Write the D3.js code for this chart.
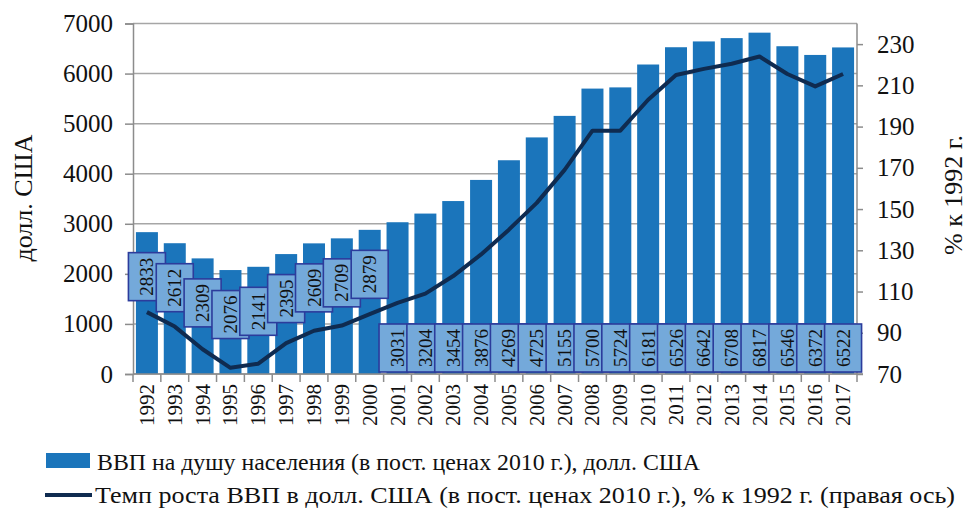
<!DOCTYPE html>
<html>
<head>
<meta charset="utf-8">
<script src="https://cdn.jsdelivr.net/npm/d3@7"></script>
<style>
  html, body { margin: 0; padding: 0; background: #fff; }
  svg { display: block; }
  svg text { font-family: "Liberation Serif", "DejaVu Serif", "Times New Roman", serif !important; fill: #111; }
</style>
</head>
<body>
<svg id="chart" width="969" height="509"></svg>
<script>
const years = ["1992","1993","1994","1995","1996","1997","1998","1999","2000","2001","2002","2003","2004","2005","2006","2007","2008","2009","2010","2011","2012","2013","2014","2015","2016","2017"];
const gdpPerCapita = [2833,2612,2309,2076,2141,2395,2609,2709,2879,3031,3204,3454,3876,4269,4725,5155,5700,5724,6181,6526,6642,6708,6817,6546,6372,6522];
const growthIndex = [100,93,82,73,75,85,91,93.5,99,104.5,109,117.5,128,140,153,169,188,188,203,215,218,220.5,224,215.5,209.5,215.5];
const leftTicks = [0,1000,2000,3000,4000,5000,6000,7000];
const rightTicks = [70,90,110,130,150,170,190,210,230];
const leftTitle = "долл. США";
const rightTitle = "% к 1992 г.";
const legendBar = "ВВП на душу населения (в пост. ценах 2010 г.), долл. США";
const legendLine = "Темп роста ВВП в долл. США (в пост. ценах 2010 г.), % к 1992 г. (правая ось)";
const topLabelCount = 9; // first years labelled near bar tops

const FONT = '"Liberation Serif", "DejaVu Serif", serif';
const svg = d3.select("#chart");
const L = 133, R = 857, T = 23.5, B = 374;
const barColor = "#1b75bb", boxFill = "#74a9da", boxStroke = "#2c3c9c", lineColor = "#0f2b50", gridColor = "#a6a6a6";

const x = d3.scaleBand().domain(years).range([L, R]).paddingInner(0.21).paddingOuter(0.105);
const y = d3.scaleLinear().domain([0, 7000]).range([B, T]);
const y2 = d3.scaleLinear().domain([70, 240]).range([B, T]);

// gridlines
svg.append("g").selectAll("line").data(leftTicks).join("line")
  .attr("x1", L).attr("x2", R).attr("y1", d => y(d)).attr("y2", d => y(d))
  .attr("stroke", gridColor).attr("stroke-width", 1.5);

// bars
svg.append("g").selectAll("rect").data(years).join("rect")
  .attr("x", d => x(d)).attr("width", x.bandwidth())
  .attr("y", (d, i) => y(gdpPerCapita[i])).attr("height", (d, i) => B - y(gdpPerCapita[i]))
  .attr("fill", barColor);

// left axis
const gl = svg.append("g").attr("transform", `translate(${L},0)`)
  .call(d3.axisLeft(y).tickValues(leftTicks).tickSize(8).tickPadding(12).tickFormat(d3.format("d")));
gl.attr("font-family", FONT);
gl.selectAll("path,line").attr("stroke", "#8c8c8c").attr("stroke-width", 1.5);
gl.selectAll("text").style("font-size", "25px").attr("fill", "#111");

// right axis
const gr = svg.append("g").attr("transform", `translate(${R},0)`)
  .call(d3.axisRight(y2).tickValues(rightTicks).tickSize(6).tickPadding(14).tickFormat(d3.format("d")));
gr.attr("font-family", FONT);
gr.selectAll("path,line").attr("stroke", "#8c8c8c").attr("stroke-width", 1.5);
gr.select("path").attr("d", `M6,${B}H0V${T}`);
gr.selectAll("text").style("font-size", "25px").attr("fill", "#111");

// bottom axis (category boundaries)
const gb = svg.append("g").attr("transform", `translate(0,${B})`);
gb.append("line").attr("x1", L).attr("x2", R).attr("stroke", "#8c8c8c").attr("stroke-width", 1.5);
const step = x.step();
gb.selectAll("line.tk").data(d3.range(years.length + 1)).join("line").attr("class", "tk")
  .attr("x1", i => L + i * step).attr("x2", i => L + i * step).attr("y1", 0).attr("y2", 8)
  .attr("stroke", "#8c8c8c").attr("stroke-width", 1.5);
gb.selectAll("text").data(years).join("text")
  .attr("transform", d => `translate(${x(d) + x.bandwidth() / 2 + 7},10) rotate(-90)`)
  .attr("text-anchor", "end").style("font-size", "21px").text(d => d);

// line
const line = d3.line().x((d, i) => x(years[i]) + x.bandwidth() / 2).y(d => y2(d)).curve(d3.curveLinear);
svg.append("path").datum(growthIndex).attr("d", line)
  .attr("fill", "none").attr("stroke", lineColor).attr("stroke-width", 4).attr("stroke-linejoin", "round");

// data labels
const boxW = 37, boxH = 48;
const lg = svg.append("g");
years.forEach((yr, i) => {
  const cx = x(yr) + x.bandwidth() / 2;
  const top = i < topLabelCount ? y(gdpPerCapita[i]) + 20.5 : B - 3 - boxH + 1;
  const g = lg.append("g");
  g.append("rect").attr("x", cx - boxW / 2).attr("y", top).attr("width", boxW).attr("height", boxH)
    .attr("fill", boxFill).attr("stroke", boxStroke).attr("stroke-width", 1.6);
  g.append("text").attr("transform", `translate(${cx + 6.5},${top + boxH / 2}) rotate(-90)`)
    .attr("text-anchor", "middle").style("font-size", "19px").text(gdpPerCapita[i]);
});

// axis titles
svg.append("text").attr("transform", "translate(32,198) rotate(-90)").attr("text-anchor", "middle")
  .style("font-size", "26px").text(leftTitle);
svg.append("text").attr("transform", "translate(962,195) rotate(-90)").attr("text-anchor", "middle")
  .style("font-size", "26px").text(rightTitle);

// legend
const leg = svg.append("g");
leg.append("rect").attr("x", 46).attr("y", 453).attr("width", 44).attr("height", 15).attr("fill", barColor);
leg.append("text").attr("x", 97).attr("y", 470).style("font-size", "24px")
  .attr("textLength", 603).attr("lengthAdjust", "spacingAndGlyphs").text(legendBar);
leg.append("line").attr("x1", 45).attr("x2", 92).attr("y1", 495).attr("y2", 495).attr("stroke", lineColor).attr("stroke-width", 4);
leg.append("text").attr("x", 95).attr("y", 503).style("font-size", "24px")
  .attr("textLength", 860).attr("lengthAdjust", "spacingAndGlyphs").text(legendLine);
</script>
</body>
</html>
